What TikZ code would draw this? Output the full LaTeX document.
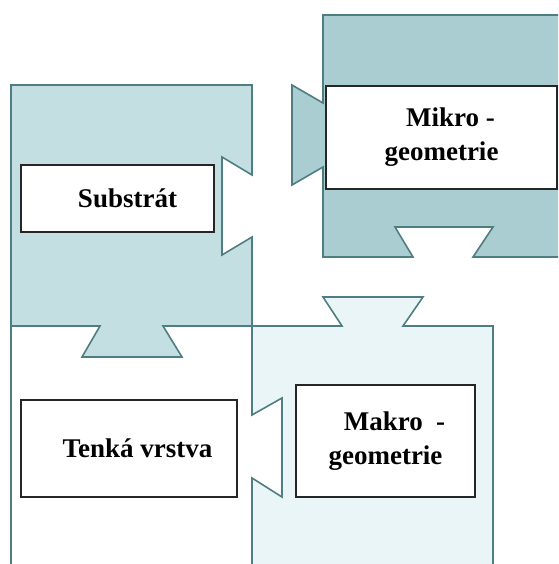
\documentclass[tikz,border=0pt]{standalone}
\usepackage{fontspec}
\setmainfont{Liberation Serif}
\usetikzlibrary{calc,positioning}
\definecolor{color_edge}{HTML}{4f7e82}
\definecolor{color_substrat}{HTML}{c4dfe2}
\definecolor{color_mikro}{HTML}{a9cdd1}
\definecolor{color_makro}{HTML}{e9f5f7}

\begin{document}
\begin{tikzpicture}[x=1pt,y=-1pt,
		piece/.style={draw=color_edge,line width=1.6pt,line join=miter},
		labelbox/.style={draw=black!85,line width=1.2pt,fill=white,align=center,inner sep=0pt,
			font=\fontsize{27}{34}\selectfont\bfseries}]
	\useasboundingbox (0,0) rectangle (558,564);
	% Points
	\coordinate (STL) at (11, 85);
	\coordinate (STR) at (252, 85);
	\coordinate (SBR) at (252, 326);
	\coordinate (SBL) at (11, 326);
	\coordinate (MTL) at (323, 15);
	\coordinate (MBL) at (323, 257);
	\coordinate (KTR) at (493, 326);

	% Tenka vrstva (white piece)
	\draw[piece] (SBL) -- (11, 564);

	% Substrat
	\filldraw[piece, fill=color_substrat]
		(STL) --
		(STR) --
		($(STR)+(0,90)$) -- ($(STR)+(-30,72)$) --
		($(STR)+(-30,170)$) -- ($(STR)+(0,152)$) --
		(SBR) --
		($(SBL)+(152,0)$) -- ($(SBL)+(171,31)$) --
		($(SBL)+(71,31)$) -- ($(SBL)+(89,0)$) --
		(SBL) --
		cycle;

	% Makro
	\filldraw[piece, fill=color_makro]
		(252, 564) --
		(252, 478) -- (282, 497) --
		(282, 398) -- (252, 415) --
		(SBR) --
		(342, 326) -- (323, 297) --
		(423, 297) -- (403, 326) --
		(KTR) --
		(493, 564);

	% Mikro
	\filldraw[piece, fill=color_mikro]
		(558, 15) --
		(MTL) --
		($(MTL)+(0,88)$) -- ($(MTL)+(-31,70)$) --
		($(MTL)+(-31,170)$) -- ($(MTL)+(0,152)$) --
		(MBL) --
		($(MBL)+(90,0)$) -- ($(MBL)+(72,-30)$) --
		($(MBL)+(170,-30)$) -- ($(MBL)+(150,0)$) --
		(558, 257);

	% Labels
	\node[labelbox, minimum width=193pt, minimum height=67pt] (substrat) at (117.5, 198.5) {\hspace*{20pt}Substrát};
	\node[labelbox, minimum width=231pt, minimum height=103pt] (mikro) at (441.5, 137.5) {\hspace*{18pt}Mikro -\\geometrie};
	\node[labelbox, minimum width=216pt, minimum height=97pt] (tenka) at (129, 448.5) {\hspace*{17pt}Tenká vrstva};
	\node[labelbox, minimum width=179pt, minimum height=112pt] (makro) at (385.5, 441) {\hspace*{18pt}Makro~~-\\geometrie};
\end{tikzpicture}
\end{document}
